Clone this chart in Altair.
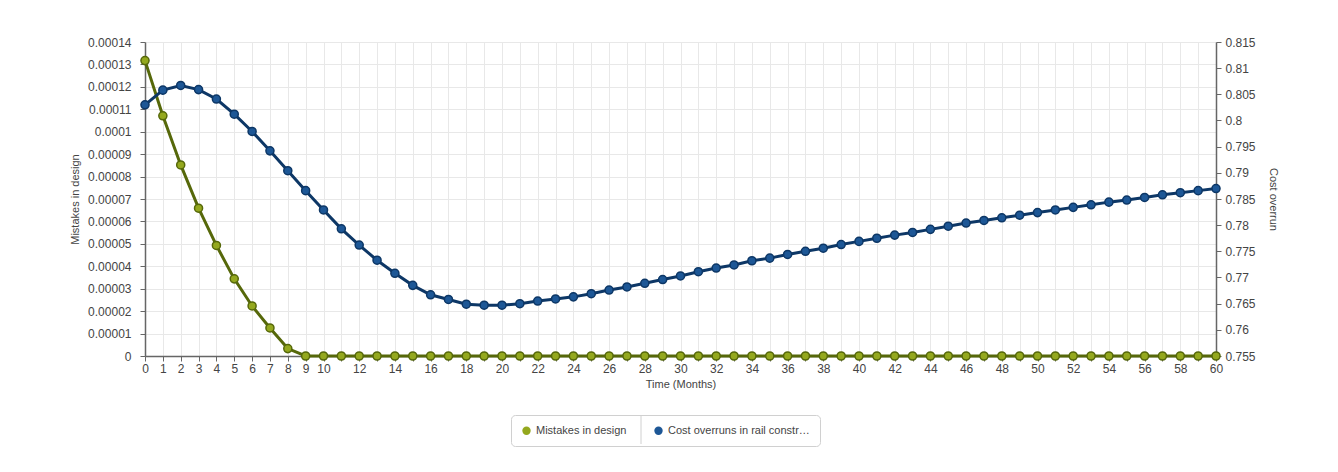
import altair as alt
import pandas as pd

months = list(range(0, 61))

mistakes = [0.0001317, 0.0001071, 0.0000852, 0.0000659, 0.0000493, 0.0000344,
             0.0000223, 0.0000125, 0.0000033] + [0.0] * 52

cost_overrun = [0.8030, 0.8058, 0.8067, 0.8059, 0.8041, 0.8012, 0.7979, 0.7942,
                0.7904, 0.7866, 0.7829, 0.7793, 0.7762, 0.7733, 0.7708, 0.7685,
                0.7667, 0.7658, 0.7649, 0.7647, 0.7647, 0.7650, 0.7655, 0.7659,
                0.7663, 0.7669, 0.7676, 0.7682, 0.7689, 0.7696, 0.7703, 0.7711,
                0.7718, 0.7724, 0.7732, 0.7737, 0.7744, 0.7750, 0.7756, 0.7763,
                0.7769, 0.7775, 0.7781, 0.7786, 0.7792, 0.7798, 0.7804, 0.7809,
                0.7814, 0.7819, 0.7824, 0.7829, 0.7834, 0.7839, 0.7844, 0.7848,
                0.7853, 0.7858, 0.7862, 0.7866, 0.7870]

series_names = ["Mistakes in design", "Cost overruns in rail constr…"]
left_ticks = [round(i * 0.00001, 5) for i in range(0, 15)]
right_ticks = [round(0.755 + i * 0.005, 3) for i in range(0, 13)]

df_m = pd.DataFrame({"month": months, "value": mistakes, "series": series_names[0]})
df_c = pd.DataFrame({"month": months, "value": cost_overrun, "series": series_names[1]})

FONT = "Liberation Sans"
GREEN_LINE = "#56680a"
GREEN_FILL = "#94a81e"
BLUE_LINE = "#0d3766"
BLUE_FILL = "#1d5796"

x_enc = alt.X(
    "month:Q",
    scale=alt.Scale(domain=[0, 60], nice=False),
    axis=alt.Axis(
        values=months,
        labelExpr="(datum.value <= 10 || datum.value % 2 == 0) ? datum.label : ''",
        title="Time (Months)",
        grid=True,
        labelOverlap=False,
        labelFlush=False,
        titlePadding=4,
    ),
)

fill_scale = alt.Scale(domain=series_names, range=[GREEN_FILL, BLUE_FILL])
legend = alt.Legend(
    title=None,
    orient="none",
    legendX=366,
    legendY=373,
    direction="horizontal",
    symbolType="circle",
    symbolSize=70,
    symbolStrokeWidth=0,
    labelFont=FONT,
    labelFontSize=11,
    labelColor="#444444",
    strokeColor="#d0d0d0",
    cornerRadius=4,
    padding=10,
    columnPadding=26,
    labelLimit=300,
)

y_left = alt.Y(
    "value:Q",
    scale=alt.Scale(domain=[0, 0.00014], nice=False),
    axis=alt.Axis(values=left_ticks, format=".5~f", title="Mistakes in design",
                  grid=True, titlePadding=7, labelPadding=9),
)
y_right = alt.Y(
    "value:Q",
    scale=alt.Scale(domain=[0.755, 0.815], nice=False),
    axis=alt.Axis(values=right_ticks, format=".3~f", title="Cost overrun",
                  orient="right", grid=False, titlePadding=12, labelPadding=4),
)

m_line = alt.Chart(df_m).mark_line(strokeWidth=3, color=GREEN_LINE).encode(x=x_enc, y=y_left)
m_pts = alt.Chart(df_m).mark_point(filled=True, size=65, stroke=GREEN_LINE, strokeWidth=1.5, opacity=1).encode(
    x=x_enc, y=y_left,
    fill=alt.Fill("series:N", scale=fill_scale, legend=legend),
)
c_line = alt.Chart(df_c).mark_line(strokeWidth=3, color=BLUE_LINE).encode(x=x_enc, y=y_right)
c_pts = alt.Chart(df_c).mark_point(filled=True, size=65, stroke=BLUE_LINE, strokeWidth=1.5, opacity=1).encode(
    x=x_enc, y=y_right,
    fill=alt.Fill("series:N", scale=fill_scale, legend=legend),
)

# thin divider between the two legend entries
divider = alt.Chart(pd.DataFrame({"d": [0]})).mark_rule(
    color="#d0d0d0", strokeWidth=1, clip=False
).encode(x=alt.value(496), y=alt.value(373), y2=alt.value(402))

left = alt.layer(m_line, m_pts)
right = alt.layer(c_line, c_pts, divider)

chart = (
    alt.layer(left, right)
    .resolve_scale(y="independent")
    .properties(
        width=1071,
        height=314,
        autosize=alt.AutoSizeParams(type="none"),
        padding={"left": 137, "top": 34, "right": 110, "bottom": 100},
    )
    .configure(font=FONT)
    .configure_view(stroke=None)
    .configure_axis(
        labelFont=FONT,
        titleFont=FONT,
        labelFontSize=12,
        titleFontSize=11,
        titleFontWeight="normal",
        labelColor="#444444",
        titleColor="#444444",
        domainColor="#666666",
        domainWidth=1.5,
        tickColor="#666666",
        tickSize=5,
        gridColor="#e8e8e8",
        gridWidth=1,
    )
)

chart.save("out.html", embed_options={"renderer": "svg", "actions": False})
